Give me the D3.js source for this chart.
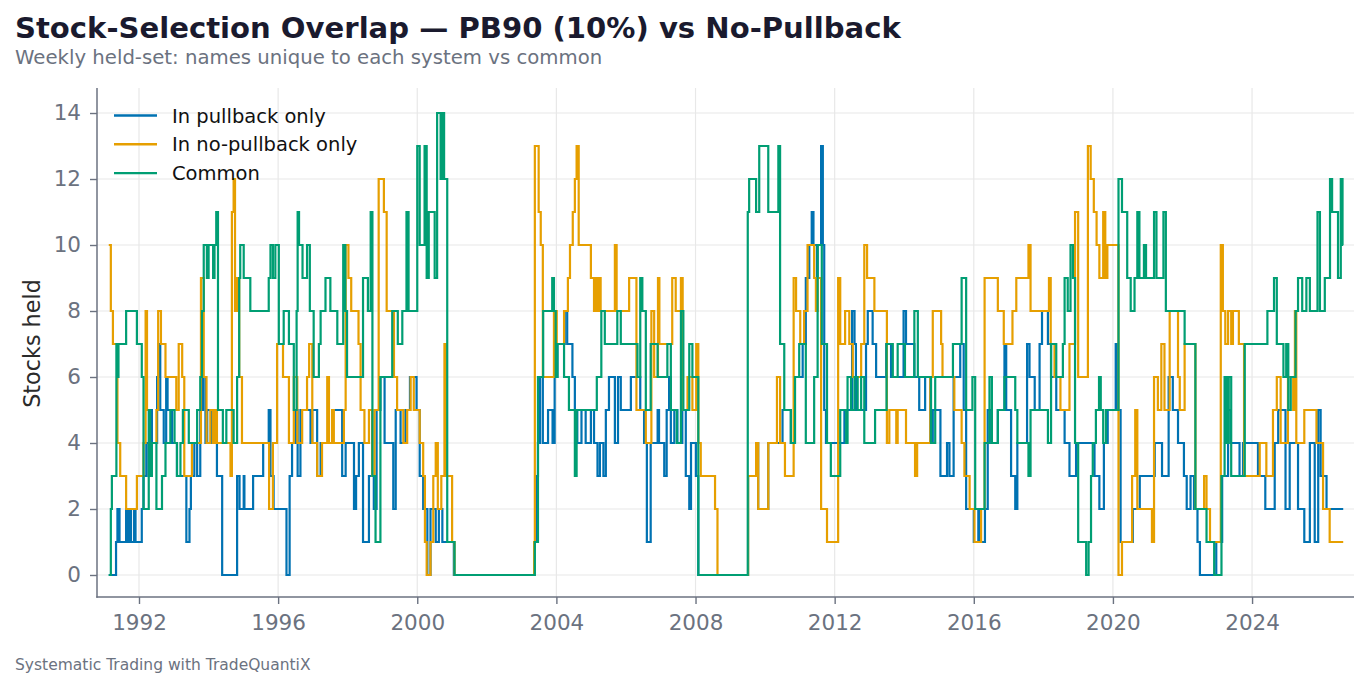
<!DOCTYPE html>
<html>
<head>
<meta charset="utf-8">
<script src="https://cdn.jsdelivr.net/npm/d3@7/dist/d3.min.js"></script>
<style>
  html, body { margin: 0; padding: 0; background: #ffffff; }
  svg { display: block; font-family: "DejaVu Sans", sans-serif; }
</style>
</head>
<body>
<svg id="chart" width="1368" height="687"></svg>
<script>
// ---------------- DATA (decimal year, stocks held) ----------------
const seriesNames = ["In pullback only", "In no-pullback only", "Common"];
const seriesColors = ["#0072B2", "#E69F00", "#009E73"];
const yTickValues = [0, 2, 4, 6, 8, 10, 12, 14];
const xTickYears = [1992, 1996, 2000, 2004, 2008, 2012, 2016, 2020, 2024];

const pullbackOnly = [
[1991.13,0],[1991.34,1],[1991.38,2],[1991.44,1],[1991.63,2],[1991.67,1],[1991.72,2],[1991.77,1],[1991.86,2],[1991.90,1],
[1992.08,2],[1992.13,3],[1992.21,4],[1992.28,3],[1992.32,5],[1992.37,4],[1992.52,6],[1992.56,7],[1992.61,5],[1992.71,4],
[1992.78,6],[1992.82,5],[1992.95,4],[1993.09,3],[1993.36,1],[1993.45,2],[1993.49,3],[1993.59,4],[1993.67,3],[1993.76,5],
[1993.84,6],[1993.91,4],[1993.96,5],[1994.10,4],[1994.24,3],[1994.39,0],[1994.82,3],[1994.89,2],[1995.01,3],[1995.03,2],
[1995.28,3],[1995.57,4],[1995.73,5],[1995.78,3],[1995.87,2],
[1996.24,0],[1996.33,3],[1996.40,4],[1996.50,5],[1996.56,3],[1996.64,5],[1996.93,4],[1996.98,5],[1997.12,3],[1997.22,4],
[1997.55,5],[1997.84,3],[1997.94,4],[1998.18,2],[1998.24,3],[1998.32,4],[1998.44,1],[1998.61,3],[1998.75,2],[1998.83,5],
[1998.94,6],[1999.06,4],[1999.31,2],[1999.38,5],[1999.52,4],[1999.66,5],[1999.79,6],[1999.98,5],[2000.07,3],[2000.17,2],
[2000.29,0],[2000.38,2],[2000.53,1],[2000.62,2],[2000.72,1],[2001.05,0],
[2003.37,1],[2003.43,3],[2003.47,4],[2003.53,6],[2003.61,4],[2003.76,5],[2003.89,4],[2003.95,6],[2004.03,7],[2004.24,8],
[2004.31,7],[2004.46,6],[2004.53,5],[2004.60,4],[2004.72,5],[2004.84,4],[2004.99,5],[2005.08,4],[2005.18,3],[2005.25,4],
[2005.35,3],[2005.42,5],[2005.51,6],[2005.68,4],[2005.77,6],[2005.85,5],[2006.14,6],
[2006.41,5],[2006.52,4],[2006.60,1],[2006.71,4],[2006.91,5],[2006.95,4],[2007.10,3],[2007.17,5],[2007.24,6],[2007.29,4],
[2007.39,5],[2007.48,4],[2007.62,5],[2007.72,3],[2007.82,2],[2007.87,4],[2008.01,3],[2008.08,0],
[2009.51,3],[2009.74,4],[2009.80,2],[2010.09,4],[2010.50,5],[2010.74,4],[2010.84,6],[2011.08,7],[2011.17,9],[2011.27,10],
[2011.34,11],[2011.39,10],[2011.49,9],
[2011.51,10],[2011.61,13],[2011.66,10],[2011.70,5],[2011.75,4],[2012.28,5],[2012.50,8],[2012.57,7],[2012.61,5],[2012.90,7],
[2012.95,8],[2013.09,7],[2013.19,6],[2013.48,7],[2013.62,6],[2013.98,8],[2014.05,7],[2014.29,6],[2014.43,5],[2014.60,6],
[2014.75,4],[2014.82,5],[2015.04,3],[2015.23,4],[2015.30,3],[2015.42,6],[2015.61,7],[2015.71,5],[2015.78,2],[2016.00,1],
[2016.13,2],[2016.19,1],[2016.32,2],[2016.40,5],[2016.50,4],
[2016.69,5],[2016.88,7],[2016.93,5],[2017.07,3],[2017.19,2],[2017.25,4],[2017.53,7],[2017.60,6],[2017.75,5],[2017.89,7],
[2017.96,8],[2018.13,7],[2018.22,6],[2018.37,5],[2018.61,4],[2018.75,3],[2018.94,4],[2019.47,3],[2019.61,2],[2019.74,4],
[2019.85,5],[2020.08,7],[2020.14,5],[2020.22,1],[2020.57,2],[2020.77,3],[2021.20,4],[2021.41,3],[2021.60,6],[2021.72,5],
[2021.87,4],[2022.04,3],[2022.12,2],[2022.23,3],[2022.33,2],[2022.43,1],[2022.50,0],[2022.97,1],[2023.14,3],[2023.31,5],
[2023.39,4],[2023.64,3],[2023.74,4],[2024.17,3],[2024.38,2],[2024.65,4],[2024.75,5],[2024.96,2],[2025.08,4],[2025.32,2],
[2025.50,1],[2025.66,4],[2025.80,1],[2025.90,5],[2025.97,3],[2026.14,2],[2026.62,2]
];

const noPullbackOnly = [
[1991.13,10],[1991.19,8],[1991.25,7],[1991.38,4],[1991.46,3],[1991.63,2],[1991.94,3],[1992.13,4],[1992.19,8],[1992.23,5],
[1992.31,4],[1992.50,5],[1992.55,8],[1992.63,7],[1992.76,6],[1993.07,5],[1993.14,7],[1993.24,6],[1993.30,3],[1993.52,4],
[1993.78,9],[1993.86,6],[1993.94,4],[1994.05,5],[1994.13,4],[1994.19,5],[1994.24,4],[1994.63,3],[1994.67,11],[1994.72,12],
[1994.76,8],[1994.82,9],[1994.88,6],[1994.96,4],[1995.74,2],[1995.85,4],
[1995.97,7],[1996.14,6],[1996.31,4],[1996.45,6],[1996.55,4],[1996.69,5],[1996.83,6],[1996.89,7],[1996.98,4],[1997.12,3],
[1997.26,4],[1997.41,6],[1997.46,4],[1997.55,5],[1997.60,4],[1997.89,5],[1997.94,10],[1998.02,9],[1998.10,8],[1998.31,7],
[1998.37,5],[1998.48,4],[1998.61,5],[1998.70,3],[1998.77,5],[1998.89,12],[1999.04,11],[1999.12,8],[1999.33,6],[1999.42,5],
[1999.60,4],[1999.71,5],[1999.81,6],[1999.90,5],[2000.07,4],[2000.17,3],[2000.22,1],[2000.27,0],[2000.38,1],[2000.46,3],
[2000.53,4],[2000.59,2],[2000.69,3],[2000.78,7],[2000.82,3],[2001.00,1],[2001.07,0],
[2003.36,1],[2003.38,13],[2003.49,11],[2003.55,10],[2003.61,6],[2003.93,8],[2004.01,7],[2004.22,8],[2004.33,9],[2004.39,10],
[2004.47,11],[2004.53,12],[2004.58,13],[2004.64,10],[2004.99,9],[2005.08,8],[2005.13,9],[2005.18,8],[2005.23,9],[2005.27,8],
[2005.68,10],[2005.73,8],[2006.09,9],
[2006.30,5],[2006.57,4],[2006.73,8],[2006.81,6],[2006.92,9],[2006.96,7],[2007.33,9],[2007.43,8],[2007.58,9],[2007.63,5],
[2007.77,6],[2007.91,5],[2008.02,7],[2008.08,4],[2008.15,3],[2008.56,2],[2008.63,0],
[2009.51,3],[2009.74,4],[2009.80,2],[2010.09,4],[2010.34,6],[2010.43,4],[2010.57,3],[2010.82,9],[2010.89,8],[2011.01,7],
[2011.12,8],[2011.22,10],[2011.41,9],[2011.46,8],
[2011.51,9],[2011.61,2],[2011.78,1],[2012.10,9],[2012.16,7],[2012.30,8],[2012.42,7],[2012.52,6],[2012.76,7],[2012.85,10],
[2012.93,9],[2013.14,8],[2013.50,4],[2013.57,5],[2013.77,4],[2013.81,5],[2014.05,4],[2014.31,3],[2014.37,4],[2014.75,6],
[2014.82,8],[2015.06,7],[2015.10,6],[2015.44,5],[2015.65,4],[2015.73,3],[2015.88,2],[2016.02,1],[2016.21,2],[2016.31,9],
[2016.69,8],[2016.86,7],[2017.11,8],[2017.22,9],[2017.57,10],[2017.63,8],[2018.16,9],[2018.21,7],[2018.32,6],[2018.49,5],
[2018.75,7],[2018.91,11],[2019.00,6],[2019.28,13],[2019.36,12],[2019.45,11],[2019.53,10],[2019.61,9],[2019.72,11],[2019.78,9],
[2019.84,10],[2020.16,0],[2020.26,1],[2020.55,3],[2020.64,5],[2020.70,2],[2021.12,1],[2021.18,6],[2021.29,5],[2021.39,7],
[2021.48,5],[2021.63,8],
[2021.87,6],[2021.92,5],[2022.06,7],[2022.37,2],[2022.62,3],[2022.69,2],[2022.79,1],[2023.10,10],[2023.16,8],[2023.23,7],
[2023.31,8],[2023.40,7],[2023.45,8],[2023.62,7],[2023.77,3],[2024.22,4],[2024.41,3],[2024.60,5],[2024.71,6],[2024.82,4],
[2025.03,6],[2025.18,5],[2025.23,8],[2025.27,4],[2025.50,5],[2025.85,4],[2026.04,2],[2026.23,1],[2026.62,1]
];

const common = [
[1991.13,0],[1991.19,2],[1991.22,3],[1991.35,7],[1991.38,6],[1991.41,7],[1991.63,8],[1991.94,7],[1992.08,6],[1992.13,2],
[1992.28,5],[1992.32,3],[1992.37,4],[1992.50,2],[1992.66,3],[1992.76,4],[1992.90,5],[1993.02,4],[1993.09,3],[1993.19,4],
[1993.26,5],[1993.43,4],[1993.67,5],[1993.76,6],[1993.81,8],[1993.86,10],[1993.95,9],[1994.00,10],[1994.13,9],[1994.17,10],
[1994.22,11],[1994.27,5],[1994.41,4],[1994.51,5],[1994.72,4],[1994.82,6],[1994.88,9],[1994.91,10],[1995.01,9],[1995.20,8],
[1995.73,9],[1995.78,10],[1995.85,9],[1995.92,10],
[1996.02,7],[1996.16,8],[1996.31,7],[1996.45,5],[1996.53,8],[1996.56,11],[1996.60,10],[1996.70,9],[1996.83,10],[1996.91,8],
[1997.02,6],[1997.17,7],[1997.22,8],[1997.36,9],[1997.50,8],[1997.70,7],[1997.87,10],[1997.93,8],[1997.98,6],[1998.44,9],
[1998.58,8],[1998.66,11],[1998.71,3],[1998.80,1],[1998.94,6],[1999.28,8],[1999.44,7],[1999.57,8],[1999.69,11],[1999.75,8],
[2000.00,13],[2000.07,10],[2000.21,13],[2000.27,9],[2000.33,11],[2000.50,9],[2000.57,14],[2000.67,12],[2000.71,14],[2000.77,12],
[2000.86,1],[2001.07,0],
[2003.38,1],[2003.47,6],[2003.62,8],[2003.88,9],[2003.93,8],[2003.98,6],[2004.03,7],[2004.22,6],[2004.36,5],[2004.53,3],
[2004.58,5],[2004.99,5],[2005.16,6],[2005.29,8],[2005.39,7],[2005.75,8],[2005.85,7],
[2006.33,6],[2006.41,9],[2006.47,8],[2006.57,5],[2006.71,7],[2006.91,6],[2007.19,7],[2007.29,5],[2007.46,4],[2007.58,8],
[2007.65,5],[2007.82,7],[2007.91,6],[2008.08,0],
[2009.50,11],[2009.54,12],[2009.74,11],[2009.83,13],[2010.09,11],[2010.38,13],[2010.43,7],[2010.55,5],[2010.74,4],[2010.86,6],
[2010.98,7],[2011.17,4],[2011.41,6],
[2011.51,10],[2011.63,7],[2011.78,4],[2011.89,3],[2012.16,5],[2012.33,4],[2012.37,6],[2012.47,5],[2012.57,6],[2012.66,5],
[2012.76,6],[2012.85,4],[2013.16,5],[2013.49,7],[2013.67,6],[2013.81,7],[2014.02,6],[2014.29,8],[2014.39,6],[2014.77,4],
[2014.89,6],[2015.40,7],[2015.65,9],[2015.78,5],[2015.96,6],[2016.04,2],[2016.31,4],[2016.45,6],[2016.52,4],
[2016.69,5],[2016.88,6],[2017.19,5],[2017.25,4],[2017.57,3],[2017.63,5],[2018.13,4],[2018.22,7],[2018.37,6],[2018.56,7],
[2018.61,9],[2018.70,8],[2018.78,10],[2018.85,9],[2018.91,4],[2019.00,1],[2019.23,0],[2019.30,1],[2019.37,3],[2019.42,4],
[2019.51,5],[2019.60,6],[2019.65,5],[2019.72,4],[2019.80,5],[2020.16,12],[2020.26,11],[2020.41,9],[2020.51,8],[2020.62,9],
[2020.70,11],[2020.76,9],[2020.89,10],[2020.95,9],[2021.18,11],[2021.25,9],[2021.45,11],[2021.52,8],
[2021.87,8],[2022.06,7],[2022.37,2],[2022.69,1],[2022.91,0],[2023.12,3],[2023.21,6],[2023.27,4],[2023.33,6],[2023.40,3],
[2023.79,7],[2024.44,8],[2024.63,9],[2024.71,7],[2024.90,6],[2024.98,7],[2025.04,5],[2025.11,6],[2025.25,8],[2025.32,9],
[2025.44,8],[2025.56,9],[2025.66,8],[2025.88,11],[2025.95,8],[2026.09,9],[2026.24,12],[2026.30,11],[2026.47,9],[2026.55,12],
[2026.60,10],[2026.62,10]
];

const allSeries = [pullbackOnly, noPullbackOnly, common];

// ---------------- CHART ----------------
function yearToDate(y) {
  const yr = Math.floor(y);
  const s = Date.UTC(yr, 0, 1), e = Date.UTC(yr + 1, 0, 1);
  return new Date(s + (y - yr) * (e - s));
}

const svg = d3.select("#chart");
const plot = { left: 97, right: 1354, top: 88, bottom: 597 };

const x = d3.scaleUtc()
  .domain([yearToDate(1990.792), yearToDate(2026.93)])
  .range([plot.left, plot.right]);
const y = d3.scaleLinear()
  .domain([-0.667, 14.758])
  .range([plot.bottom, plot.top]);

const gridColor = "#e8e8e8";
const axisColor = "#6b7280";

// gridlines
const grid = svg.append("g");
grid.selectAll("line.gx").data(xTickYears).join("line")
  .attr("x1", d => x(yearToDate(d))).attr("x2", d => x(yearToDate(d)))
  .attr("y1", plot.top).attr("y2", plot.bottom)
  .attr("stroke", gridColor).attr("stroke-width", 1.2);
grid.selectAll("line.gy").data(yTickValues).join("line")
  .attr("x1", plot.left).attr("x2", plot.right)
  .attr("y1", d => y(d)).attr("y2", d => y(d))
  .attr("stroke", gridColor).attr("stroke-width", 1.2);

// lines
const line = d3.line()
  .x(d => x(yearToDate(d[0])))
  .y(d => y(d[1]))
  .curve(d3.curveStepAfter);

svg.append("g").selectAll("path").data(allSeries).join("path")
  .attr("d", d => line(d))
  .attr("fill", "none")
  .attr("stroke", (d, i) => seriesColors[i])
  .attr("stroke-width", 2.2)
  .attr("stroke-linejoin", "miter");

// axes
const xAxis = d3.axisBottom(x)
  .tickValues(xTickYears.map(yearToDate))
  .tickFormat(d3.utcFormat("%Y"))
  .tickSize(7).tickPadding(11);
const yAxis = d3.axisLeft(y)
  .tickValues(yTickValues)
  .tickSize(7).tickPadding(9);

const gx = svg.append("g").attr("transform", `translate(0,${plot.bottom})`).call(xAxis);
const gy = svg.append("g").attr("transform", `translate(${plot.left},0)`).call(yAxis);
[gx, gy].forEach(g => {
  g.select(".domain").remove();
  g.selectAll(".tick line").attr("stroke", axisColor).attr("stroke-width", 1.4);
  g.selectAll(".tick text").attr("fill", axisColor)
    .style("font-family", "DejaVu Sans").style("font-size", "21.5px");
});
// spines
svg.append("line").attr("x1", plot.left).attr("x2", plot.left)
  .attr("y1", plot.top).attr("y2", plot.bottom + 0.7)
  .attr("stroke", axisColor).attr("stroke-width", 1.5);
svg.append("line").attr("x1", plot.left - 0.7).attr("x2", plot.right)
  .attr("y1", plot.bottom).attr("y2", plot.bottom)
  .attr("stroke", axisColor).attr("stroke-width", 1.5);

// y label
svg.append("text")
  .attr("transform", `translate(40,${(plot.top + plot.bottom) / 2 + 1}) rotate(-90)`)
  .attr("text-anchor", "middle")
  .attr("fill", "#2b2b2b")
  .style("font-size", "22.3px")
  .text("Stocks held");

// legend
const legend = svg.append("g");
seriesNames.forEach((name, i) => {
  const ly = 115.5 + i * 28.8;
  legend.append("line").attr("x1", 114).attr("x2", 157)
    .attr("y1", ly).attr("y2", ly)
    .attr("stroke", seriesColors[i]).attr("stroke-width", 2.4);
  legend.append("text").attr("x", 172).attr("y", ly).attr("dy", "0.36em")
    .attr("fill", "#111111").style("font-size", "19.5px").text(name);
});

// titles
svg.append("text").attr("x", 15).attr("y", 37.5)
  .attr("fill", "#1a1a2e").style("font-weight", "bold").style("font-size", "29.1px")
  .text("Stock-Selection Overlap — PB90 (10%) vs No-Pullback");
svg.append("text").attr("x", 15).attr("y", 63.5)
  .attr("fill", "#6b7280").style("font-size", "19.7px")
  .text("Weekly held-set: names unique to each system vs common");
svg.append("text").attr("x", 15).attr("y", 670)
  .attr("fill", "#6b7280").style("font-size", "15.5px")
  .text("Systematic Trading with TradeQuantiX");
</script>
</body>
</html>
